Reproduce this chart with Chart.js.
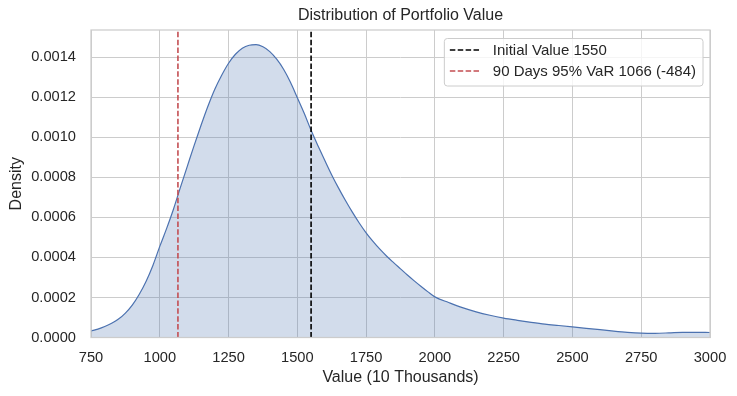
<!DOCTYPE html>
<html>
<head>
<meta charset="utf-8">
<script src="https://cdn.jsdelivr.net/npm/chart.js@4/dist/chart.umd.min.js"></script>
<style>
  html, body { margin: 0; padding: 0; background: #fff; }
</style>
</head>
<body>
<canvas id="chart" width="737" height="396"></canvas>
<script>
// portfolio value (10 thousands) and estimated density
const values = [750, 775, 800, 825, 850, 875, 900, 925, 950, 975,
  1000, 1025, 1050, 1075, 1100, 1125, 1150, 1175, 1200, 1225,
  1250, 1275, 1300, 1325, 1350, 1375, 1400, 1425, 1450, 1475,
  1500, 1525, 1550, 1575, 1600, 1625, 1650, 1675, 1700, 1725,
  1750, 1775, 1800, 1825, 1850, 1875, 1900, 1925, 1950, 1975,
  2000, 2050, 2100, 2150, 2200, 2250, 2300, 2350, 2400, 2450,
  2500, 2550, 2600, 2650, 2700, 2750, 2800, 2850, 2900, 2950, 3000];
const density = [0.000032, 0.000042, 0.000055, 0.000071, 0.000092, 0.000122, 0.000162, 0.000215, 0.000280, 0.000360,
  0.000455, 0.000545, 0.000642, 0.000750, 0.000855, 0.000960, 0.001060, 0.001155, 0.001240, 0.001310,
  0.001370, 0.001415, 0.001445, 0.001460, 0.001463, 0.001452, 0.001428, 0.001390, 0.001340, 0.001275,
  0.001198, 0.001120, 0.001035, 0.000958, 0.000884, 0.000812, 0.000746, 0.000684, 0.000626, 0.000572,
  0.000523, 0.000480, 0.000441, 0.000406, 0.000374, 0.000343, 0.000312, 0.000283, 0.000255, 0.000228,
  0.000203, 0.000175, 0.000149, 0.000128, 0.000111, 0.000097, 0.000086, 0.000076, 0.000067, 0.000060,
  0.000053, 0.000046, 0.000039, 0.000032, 0.000026, 0.000022, 0.000021, 0.000023, 0.000026, 0.000026, 0.000025];

const xTicks = [750, 1000, 1250, 1500, 1750, 2000, 2250, 2500, 2750, 3000];
const yTicks = [0, 0.0002, 0.0004, 0.0006, 0.0008, 0.0010, 0.0012, 0.0014];
const yTop = 0.001536;

const initialValue = 1550;
const varValue = 1066;
const varDays = 90;
const varLevel = 95;

const FONT = '"Liberation Sans", Arial, sans-serif';
const TEXT = '#262626';
const GRID = '#cccccc';

// light grey frame round the plot area (seaborn whitegrid spines)
const frame = {
  id: 'frame',
  afterDatasetsDraw(chart) {
    const a = chart.chartArea, ctx = chart.ctx;
    ctx.save();
    ctx.strokeStyle = GRID;
    ctx.lineWidth = 1.25;
    ctx.strokeRect(a.left, a.top, a.right - a.left, a.bottom - a.top);
    ctx.restore();
  }
};

// matplotlib-style legend box in the upper right corner
const legendBox = {
  id: 'legendBox',
  afterDatasetsDraw(chart) {
    const a = chart.chartArea, ctx = chart.ctx;
    const items = chart.data.datasets.filter(d => d.inLegend);
    ctx.save();
    ctx.font = '15px ' + FONT;
    const textW = Math.max(...items.map(d => ctx.measureText(d.label).width));
    const w = 48.5 + textW + 7, h = 47.5;
    const x = a.right - 7 - w, y = a.top + 8.5;
    ctx.beginPath();
    ctx.roundRect(x, y, w, h, 3);
    ctx.fillStyle = 'rgba(255,255,255,0.8)';
    ctx.fill();
    ctx.strokeStyle = GRID;
    ctx.lineWidth = 1;
    ctx.stroke();
    items.forEach((d, i) => {
      const ly = y + 11.5 + i * 21;
      ctx.beginPath();
      ctx.setLineDash(d.borderDash);
      ctx.strokeStyle = d.borderColor;
      ctx.lineWidth = d.borderWidth;
      ctx.moveTo(x + 5.5, ly);
      ctx.lineTo(x + 35.5, ly);
      ctx.stroke();
      ctx.setLineDash([]);
      ctx.fillStyle = TEXT;
      ctx.textBaseline = 'middle';
      ctx.fillText(d.label, x + 48.5, ly + 1);
    });
    ctx.restore();
  }
};

new Chart(document.getElementById('chart'), {
  type: 'line',
  data: {
    datasets: [
      {
        label: `Initial Value ${initialValue}`,
        inLegend: true,
        data: [{ x: initialValue, y: 0 }, { x: initialValue, y: yTop }],
        borderColor: '#000000',
        borderWidth: 1.6,
        borderDash: [5.5, 2.4],
        pointRadius: 0,
        fill: false
      },
      {
        label: `${varDays} Days ${varLevel}% VaR ${varValue} (${varValue - initialValue})`,
        inLegend: true,
        data: [{ x: varValue, y: 0 }, { x: varValue, y: yTop }],
        borderColor: '#C44E52',
        borderWidth: 1.6,
        borderDash: [5.5, 2.4],
        pointRadius: 0,
        fill: false
      },
      {
        label: 'Density',
        data: values.map((v, i) => ({ x: v, y: density[i] })),
        borderColor: '#4C72B0',
        borderWidth: 1.2,
        backgroundColor: 'rgba(76,114,176,0.25)',
        fill: 'origin',
        pointRadius: 0,
        cubicInterpolationMode: 'monotone'
      }
    ]
  },
  options: {
    responsive: false,
    animation: false,
    devicePixelRatio: 1,
    layout: { padding: { left: 0, right: 27, top: 0, bottom: 0 } },
    plugins: {
      legend: { display: false },
      tooltip: { enabled: false },
      title: {
        display: true,
        text: 'Distribution of Portfolio Value',
        fullSize: false,
        color: TEXT,
        font: { family: FONT, size: 16, weight: 'normal' },
        padding: { top: 6.4, bottom: 4.4 }
      }
    },
    scales: {
      x: {
        type: 'linear',
        min: 750,
        max: 3000,
        afterBuildTicks: s => { s.ticks = xTicks.map(v => ({ value: v })); },
        afterFit: s => { s.height = 58.5; s.paddingLeft = 0; s.paddingRight = 0; },
        grid: { color: GRID, lineWidth: 1, drawTicks: false },
        border: { display: false },
        ticks: {
          color: TEXT,
          font: { family: FONT, size: 14.67 },
          padding: 12,
          maxRotation: 0,
          autoSkip: false,
          callback: v => String(v)
        },
        title: {
          display: true,
          text: 'Value (10 Thousands)',
          color: TEXT,
          font: { family: FONT, size: 16 },
          padding: { top: 0, bottom: 8.4 }
        }
      },
      y: {
        type: 'linear',
        min: 0,
        max: yTop,
        afterBuildTicks: s => { s.ticks = yTicks.map(v => ({ value: v })); },
        afterFit: s => { s.width = 91; },
        grid: { color: GRID, lineWidth: 1, drawTicks: false },
        border: { display: false },
        ticks: {
          color: TEXT,
          font: { family: FONT, size: 14.67 },
          padding: 15,
          callback: v => v.toFixed(4)
        },
        title: {
          display: true,
          text: 'Density',
          color: TEXT,
          font: { family: FONT, size: 16 },
          padding: { top: 6.9, bottom: 0 }
        }
      }
    }
  },
  plugins: [frame, legendBox]
});
</script>
</body>
</html>
